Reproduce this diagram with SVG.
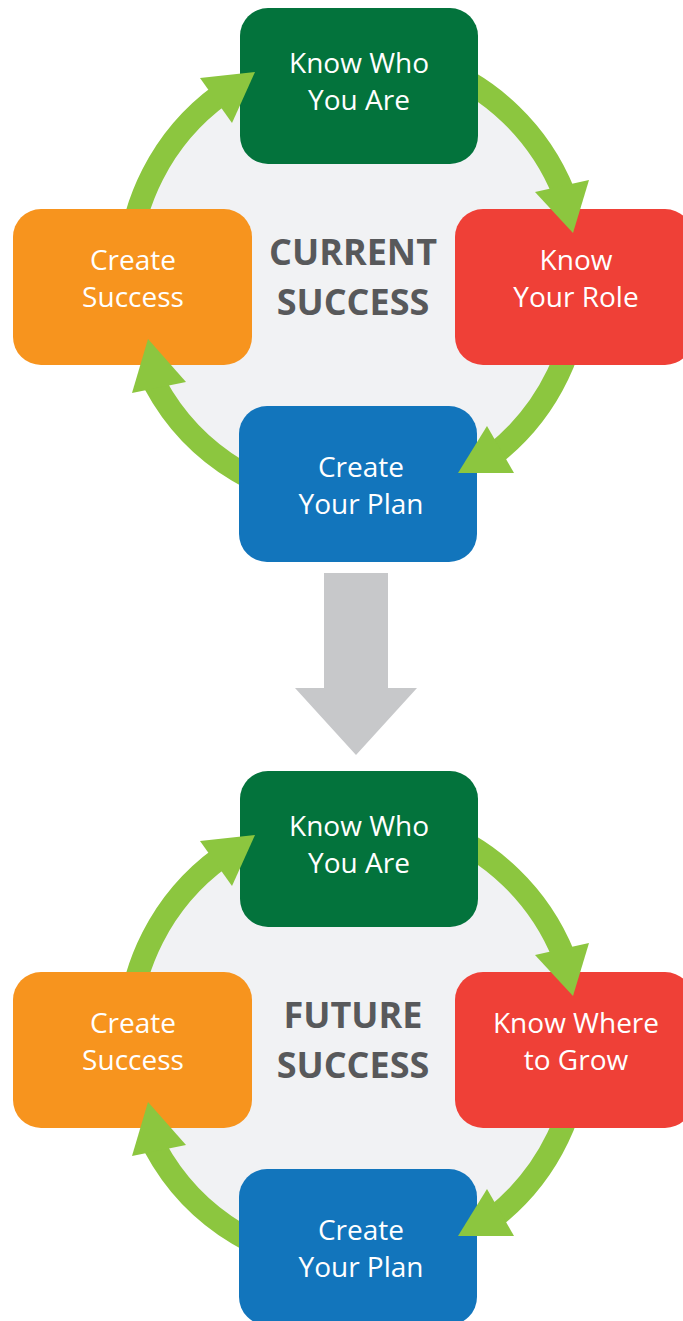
<svg xmlns="http://www.w3.org/2000/svg" width="683" height="1321" viewBox="0 0 683 1321">
<style>
.lbl{font-family:"Open Sans","Liberation Sans",sans-serif;font-size:28px;fill:#ffffff;text-anchor:middle}
.ctr{font-family:"Open Sans","Liberation Sans",sans-serif;font-weight:700;font-size:36px;fill:#58595b;text-anchor:middle}
.arc{fill:none;stroke:#8cc63f;stroke-width:23}
.head{fill:#8cc63f}
.bg{fill:#f1f2f4}
.g{fill:#03733c}.r{fill:#ef4037}.o{fill:#f7941e}.b{fill:#1275bc}
</style>
<defs>
<mask id="boxmask" maskUnits="userSpaceOnUse" x="-50" y="-50" width="800" height="700">
<rect x="-50" y="-50" width="800" height="700" fill="#fff"/>
<rect x="240" y="8" width="238" height="156" rx="28" fill="#000"/>
<rect x="13" y="209" width="239" height="156" rx="28" fill="#000"/>
<rect x="455" y="209" width="238" height="156" rx="28" fill="#000"/>
<rect x="239" y="406" width="238" height="156" rx="28" fill="#000"/>
</mask>
<g id="cycleArcs">
<path class="arc" d="M128,277 A226,226 0 0 1 221.2,94.2"/>
<path class="arc" d="M431.3,64.6 A226,226 0 0 1 563.5,192.3"/>
<path class="arc" d="M580,277 A226,226 0 0 1 495.3,453.4"/>
<path class="arc" d="M354,503 A226,226 0 0 1 154.8,383.8"/>
</g>
<g id="cycleHeads">
<polygon class="head" points="200,78 255,72 232,123"/>
<polygon class="head" points="535,192 573,233 589,180"/>
<polygon class="head" points="487,426 458,473 514,473"/>
<polygon class="head" points="148,339 132,393 186,382"/>
</g>
</defs>

<g id="backgrounds">
<circle class="bg" cx="354" cy="277" r="226"/>
<circle class="bg" cx="354" cy="1040" r="226"/>
</g>

<g id="current-cycle">
<g id="cur-know-who">
<rect class="g" x="240" y="8" width="238" height="156" rx="28"/>
<text class="lbl" x="359" y="73">Know Who</text>
<text class="lbl" x="359" y="110">You Are</text>
</g>
<g id="cur-know-role">
<rect class="r" x="455" y="209" width="238" height="156" rx="28"/>
<text class="lbl" x="576" y="270">Know</text>
<text class="lbl" x="576" y="307">Your Role</text>
</g>
<g id="cur-create-plan">
<rect class="b" x="239" y="406" width="238" height="156" rx="28"/>
<text class="lbl" x="361" y="477">Create</text>
<text class="lbl" x="361" y="514">Your Plan</text>
</g>
<g id="cur-create-success">
<rect class="o" x="13" y="209" width="239" height="156" rx="28"/>
<text class="lbl" x="133" y="270">Create</text>
<text class="lbl" x="133" y="307">Success</text>
</g>
<g id="cur-title">
<text class="ctr" x="353" y="264.5">CURRENT</text>
<text class="ctr" x="353" y="315">SUCCESS</text>
</g>
</g>

<g id="future-cycle" transform="translate(0,763)">
<g id="fut-know-who">
<rect class="g" x="240" y="8" width="238" height="156" rx="28"/>
<text class="lbl" x="359" y="73">Know Who</text>
<text class="lbl" x="359" y="110">You Are</text>
</g>
<g id="fut-know-where">
<rect class="r" x="455" y="209" width="238" height="156" rx="28"/>
<text class="lbl" x="576" y="270">Know Where</text>
<text class="lbl" x="576" y="307">to Grow</text>
</g>
<g id="fut-create-plan">
<rect class="b" x="239" y="406" width="238" height="156" rx="28"/>
<text class="lbl" x="361" y="477">Create</text>
<text class="lbl" x="361" y="514">Your Plan</text>
</g>
<g id="fut-create-success">
<rect class="o" x="13" y="209" width="239" height="156" rx="28"/>
<text class="lbl" x="133" y="270">Create</text>
<text class="lbl" x="133" y="307">Success</text>
</g>
<g id="fut-title">
<text class="ctr" x="353" y="264.5">FUTURE</text>
<text class="ctr" x="353" y="315">SUCCESS</text>
</g>
</g>

<g id="connectors">
<g id="cur-connectors">
<g mask="url(#boxmask)"><use href="#cycleArcs"/></g>
<use href="#cycleHeads"/>
</g>
<polygon id="between-arrow" fill="#c7c8ca" points="324,573 388,573 388,688 417,688 356,755 295,688 324,688"/>
<g id="fut-connectors" transform="translate(0,763)">
<g mask="url(#boxmask)"><use href="#cycleArcs"/></g>
<use href="#cycleHeads"/>
</g>
</g>
</svg>
